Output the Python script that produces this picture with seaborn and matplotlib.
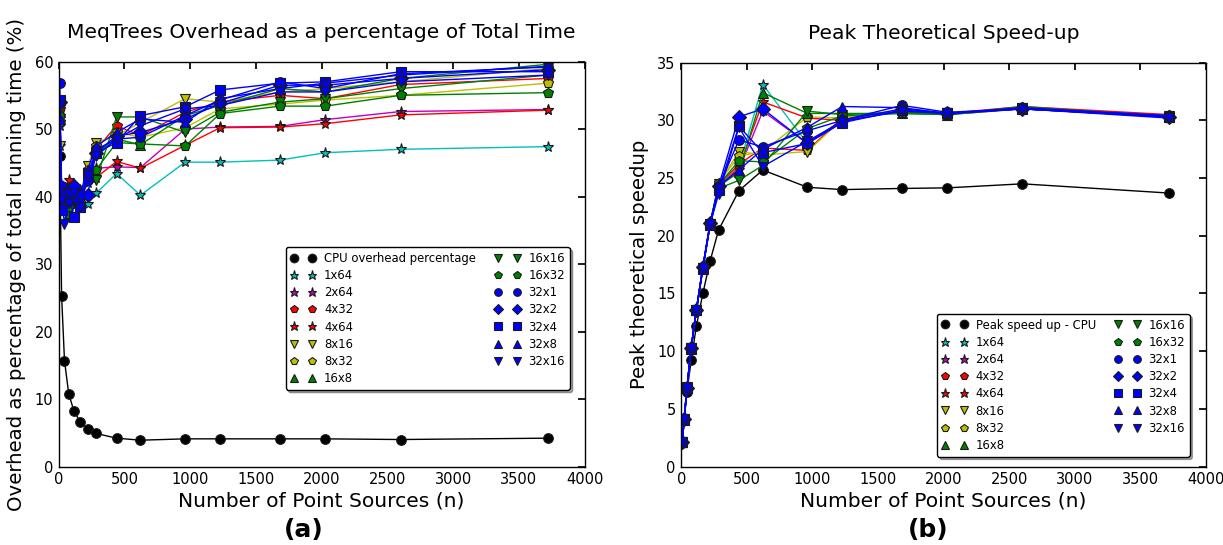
import numpy as np
import pandas as pd
import matplotlib
matplotlib.use("Agg")
import matplotlib.pyplot as plt
from matplotlib.lines import Line2D
import seaborn as sns

# ---------------- data ----------------
n_sources = [8, 22, 44, 76, 116, 165, 220, 285, 440, 622, 962, 1228, 1683, 2028, 2600, 3720]

series_names = ["1x64", "2x64", "4x32", "4x64", "8x16", "8x32", "16x8", "16x16",
                "16x32", "32x1", "32x2", "32x4", "32x8", "32x16"]

# overhead (%) – panel (a)
cpu_overhead = [46.0, 25.3, 15.7, 10.8, 8.2, 6.6, 5.5, 4.9, 4.2, 3.9, 4.1, 4.1, 4.1, 4.1, 4.0, 4.2]
ovh_1x64 = [47.5, 40.0, 39.0, 38.5, 40.0, 39.5, 38.9, 40.5, 43.4, 40.2, 45.1, 45.1, 45.4, 46.5, 47.0, 47.4]
ovh_2x64 = [50.5, 41.0, 40.0, 39.0, 40.5, 39.5, 43.0, 44.2, 44.4, 44.3, 50.0, 50.3, 50.4, 51.4, 52.6, 52.9]
ovh_4x32 = [53.0, 40.5, 39.5, 40.0, 41.0, 40.0, 42.5, 47.0, 50.5, 49.0, 52.5, 54.0, 55.0, 54.5, 56.6, 57.5]
ovh_4x64 = [51.0, 41.5, 40.0, 42.5, 40.5, 41.0, 42.0, 42.8, 45.2, 44.2, 47.6, 50.2, 50.3, 50.8, 52.1, 52.8]
ovh_8x16 = [47.5, 39.5, 38.5, 40.0, 39.0, 40.0, 44.5, 48.0, 49.0, 51.0, 54.5, 54.0, 55.5, 56.0, 57.0, 59.0]
ovh_8x32 = [52.0, 40.0, 41.0, 39.5, 40.0, 39.0, 44.0, 47.5, 49.5, 48.8, 50.2, 53.0, 53.7, 54.3, 55.0, 56.8]
ovh_16x8 = [52.5, 40.5, 39.0, 37.5, 40.0, 38.5, 43.0, 46.5, 48.5, 47.7, 52.0, 53.5, 56.0, 55.5, 57.5, 59.6]
ovh_16x16 = [53.0, 41.0, 38.0, 40.5, 39.0, 39.5, 43.5, 42.5, 51.8, 51.8, 49.5, 52.5, 54.0, 54.5, 56.0, 58.0]
ovh_16x32 = [51.0, 40.0, 39.5, 38.5, 41.0, 40.0, 43.5, 44.0, 48.0, 47.8, 47.5, 52.3, 53.4, 53.4, 55.0, 55.4]
ovh_32x1 = [56.8, 41.5, 40.0, 40.5, 39.5, 40.5, 42.5, 47.0, 48.5, 48.8, 52.0, 54.3, 57.0, 56.0, 58.2, 59.2]
ovh_32x2 = [54.0, 40.5, 39.5, 41.0, 41.5, 40.0, 40.3, 46.5, 49.0, 49.5, 51.5, 53.8, 56.5, 56.5, 57.5, 58.8]
ovh_32x4 = [54.3, 38.0, 40.0, 40.5, 37.0, 38.5, 43.5, 46.5, 48.0, 52.0, 53.3, 55.8, 56.8, 57.0, 58.5, 58.5]
ovh_32x8 = [51.5, 39.0, 40.5, 39.5, 40.0, 40.5, 44.0, 47.5, 49.5, 51.5, 51.0, 54.5, 56.0, 56.8, 58.0, 59.3]
ovh_32x16 = [53.5, 39.5, 36.0, 39.0, 40.5, 38.5, 43.0, 46.0, 48.5, 50.5, 53.0, 53.5, 55.5, 55.5, 57.0, 58.0]

# peak theoretical speed-up – panel (b)
cpu_speedup = [2.0, 4.0, 6.5, 9.2, 12.2, 15.0, 17.8, 20.5, 23.9, 25.7, 24.2, 24.0, 24.1, 24.15, 24.5, 23.7]
sp_1x64 = [2.1, 4.1, 6.8, 10.3, 13.6, 17.2, 21.0, 24.3, 26.0, 33.1, 28.0, 30.0, 30.9, 30.6, 31.1, 30.4]
sp_2x64 = [2.1, 4.0, 6.7, 10.2, 13.6, 17.3, 20.9, 24.2, 25.7, 30.8, 28.0, 30.0, 30.8, 30.6, 31.0, 30.3]
sp_4x32 = [2.1, 4.1, 6.8, 10.3, 13.5, 17.2, 21.0, 24.4, 26.2, 27.6, 27.4, 30.2, 30.7, 30.6, 31.2, 30.5]
sp_4x64 = [2.0, 4.0, 6.8, 10.3, 13.6, 17.3, 21.1, 24.2, 25.9, 31.6, 30.2, 30.0, 30.8, 30.5, 31.0, 30.4]
sp_8x16 = [2.1, 4.1, 6.9, 10.3, 13.6, 17.2, 21.0, 24.5, 27.3, 27.0, 27.3, 30.1, 30.8, 30.6, 31.1, 30.3]
sp_8x32 = [2.1, 4.1, 6.8, 10.2, 13.6, 17.3, 21.0, 24.6, 26.9, 27.3, 30.3, 30.2, 30.9, 30.7, 31.0, 30.4]
sp_16x8 = [2.1, 4.1, 6.8, 10.3, 13.6, 17.3, 21.0, 24.3, 25.5, 32.4, 30.6, 30.6, 30.6, 30.5, 31.2, 30.3]
sp_16x16 = [2.1, 4.0, 6.8, 10.3, 13.5, 17.2, 20.9, 24.1, 24.8, 26.1, 30.8, 30.5, 30.7, 30.6, 31.1, 30.4]
sp_16x32 = [2.1, 4.1, 6.8, 10.3, 13.6, 17.2, 21.0, 24.4, 26.5, 26.4, 29.3, 30.4, 30.6, 30.5, 31.0, 30.3]
sp_32x1 = [2.1, 4.1, 6.9, 10.3, 13.6, 17.3, 21.0, 24.2, 28.3, 27.7, 29.1, 30.0, 31.3, 30.7, 31.0, 30.4]
sp_32x2 = [2.1, 4.1, 6.8, 10.3, 13.6, 17.3, 21.1, 24.3, 30.3, 31.0, 28.0, 30.0, 31.0, 30.6, 31.0, 30.3]
sp_32x4 = [2.1, 4.0, 6.8, 10.2, 13.6, 17.1, 20.9, 24.0, 29.5, 27.2, 28.0, 29.8, 30.9, 30.6, 31.0, 30.3]
sp_32x8 = [2.1, 4.1, 6.8, 10.3, 13.6, 17.3, 21.0, 24.3, 25.7, 27.5, 29.4, 31.2, 31.1, 30.6, 31.1, 30.4]
sp_32x16 = [2.1, 4.1, 6.8, 10.3, 13.6, 17.2, 21.0, 23.6, 29.4, 26.0, 28.2, 29.9, 30.8, 30.6, 31.0, 30.2]

x_ticks = [0, 500, 1000, 1500, 2000, 2500, 3000, 3500, 4000]
ovh_ticks = [0, 10, 20, 30, 40, 50, 60]
sp_ticks = [0, 5, 10, 15, 20, 25, 30, 35]

ovh_series = [ovh_1x64, ovh_2x64, ovh_4x32, ovh_4x64, ovh_8x16, ovh_8x32, ovh_16x8,
              ovh_16x16, ovh_16x32, ovh_32x1, ovh_32x2, ovh_32x4, ovh_32x8, ovh_32x16]
sp_series = [sp_1x64, sp_2x64, sp_4x32, sp_4x64, sp_8x16, sp_8x32, sp_16x8,
             sp_16x16, sp_16x32, sp_32x1, sp_32x2, sp_32x4, sp_32x8, sp_32x16]

# ---------------- style ----------------
C = {"k": (0, 0, 0), "c": (0, 0.75, 0.75), "m": (0.75, 0, 0.75), "r": (1, 0, 0),
     "y": (0.75, 0.75, 0), "g": (0, 0.5, 0), "b": (0, 0, 1)}
colors = ["c", "m", "r", "r", "y", "y", "g", "g", "g", "b", "b", "b", "b", "b"]
markers = ["*", "*", "p", "*", "v", "p", "^", "v", "p", "o", "D", "s", "^", "v"]
msizes = [8, 8, 7, 8, 7, 7, 7, 7, 7, 7, 7, 7, 7, 7]

sns.set_theme(style="white")
plt.rcParams.update({
    "font.family": ["DejaVu Sans"],
    "xtick.direction": "in", "ytick.direction": "in",
    "xtick.top": True, "ytick.right": True,
    "xtick.major.size": 5, "ytick.major.size": 5,
    "axes.edgecolor": "black", "axes.linewidth": 1.0,
    "xtick.color": "black", "ytick.color": "black",
    "text.color": "black", "axes.labelcolor": "black",
})

fig = plt.figure(figsize=(12.23, 5.45), dpi=100)
ax1 = fig.add_axes([0.048, 0.144, 0.430, 0.743])
ax2 = fig.add_axes([0.557, 0.144, 0.429, 0.741])


def draw(ax, cpu_vals, vals_list):
    sns.lineplot(x=n_sources, y=cpu_vals, ax=ax, color=C["k"], marker="o",
                 markersize=7, markeredgecolor="k", linewidth=1.0, legend=False)
    for vals, col, mk, ms in zip(vals_list, colors, markers, msizes):
        sns.lineplot(x=n_sources, y=vals, ax=ax, color=C[col], marker=mk,
                     markersize=ms, markeredgecolor="k", markeredgewidth=0.8,
                     linewidth=1.0, legend=False)


draw(ax1, cpu_overhead, ovh_series)
draw(ax2, cpu_speedup, sp_series)

for ax in (ax1, ax2):
    ax.set_xlim(0, 4000)
    ax.set_xticks(x_ticks)
    ax.tick_params(labelsize=10.5, pad=4)
    ax.set_xlabel("Number of Point Sources (n)", fontsize=14.6, labelpad=3)

ax1.set_ylim(0, 60)
ax1.set_yticks(ovh_ticks)
ax2.set_ylim(0, 35)
ax2.set_yticks(sp_ticks)

ax1.set_ylabel("Overhead as percentage of total running time (%)", fontsize=14.2, labelpad=6)
ax2.set_ylabel("Peak theoretical speedup", fontsize=14.2, labelpad=6)
ax1.set_title("MeqTrees Overhead as a percentage of Total Time", fontsize=14.6, pad=17)
ax2.set_title("Peak Theoretical Speed-up", fontsize=14.6, pad=17)


def make_handles(cpu_label):
    hs = [Line2D([], [], linestyle="none", marker="o", color=C["k"],
                 markeredgecolor="k", markersize=6, label=cpu_label)]
    for name, col, mk, ms in zip(series_names, colors, markers, msizes):
        hs.append(Line2D([], [], linestyle="none", marker=mk, color=C[col],
                         markeredgecolor="k", markeredgewidth=0.8,
                         markersize=ms - 1.5, label=name))
    return hs


leg_kw = dict(ncol=2, numpoints=2, fontsize=8.4, frameon=True, fancybox=True,
              shadow=True, labelspacing=0.36, handlelength=2.2, handletextpad=0.7,
              columnspacing=1.6, borderpad=0.4, loc="lower right")
l1 = ax1.legend(handles=make_handles("CPU overhead percentage"),
                bbox_to_anchor=(0.983, 0.175), **leg_kw)
l2 = ax2.legend(handles=make_handles("Peak speed up - CPU"),
                bbox_to_anchor=(0.98, 0.01), **leg_kw)
for leg in (l1, l2):
    leg.get_frame().set_edgecolor("black")
    leg.get_frame().set_linewidth(1.0)

fig.text(0.248, 0.027, "(a)", fontsize=18, fontweight="bold", ha="center", va="center")
fig.text(0.759, 0.027, "(b)", fontsize=18, fontweight="bold", ha="center", va="center")

fig.savefig("out.png", dpi=100)
